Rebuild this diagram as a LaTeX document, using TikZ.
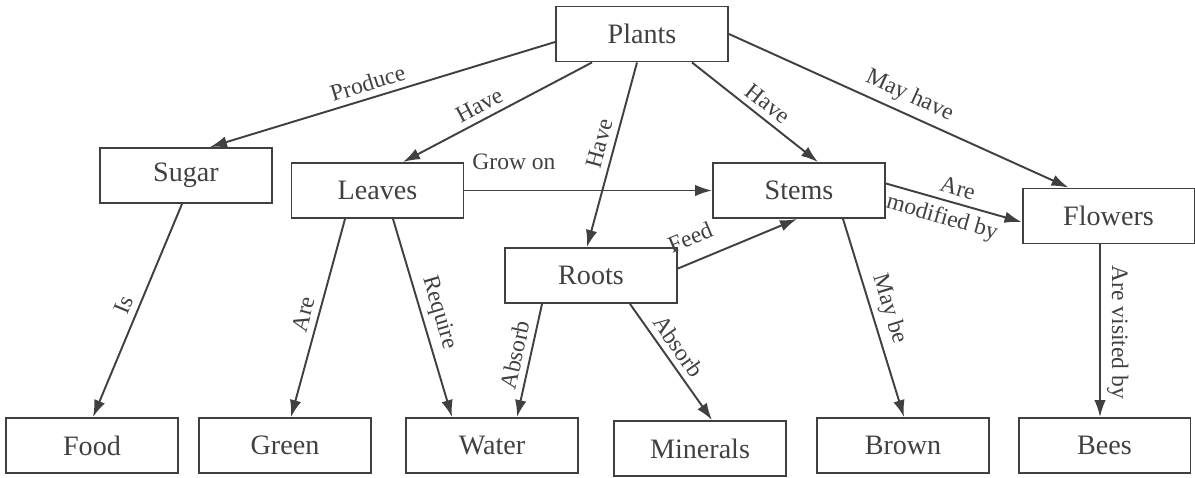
\documentclass[tikz,border=0pt]{standalone}
\usepackage{fontspec}
\setmainfont{Liberation Serif}
\usetikzlibrary{arrows.meta,calc}
\tikzset{>={Latex[length=3.4mm,width=2.3mm]}}
\tikzset{box/.style={draw=black!75, line width=1.1pt, minimum width=3.44cm, minimum height=1.1cm, inner sep=0pt, text=black!75, font=\fontsize{16}{18}\selectfont}}
\tikzset{link/.style={->, draw=black!75, line width=1.1pt}}
\tikzset{lbl/.style={sloped, above, inner sep=3.5pt, text=black!75, font=\fontsize{13.4}{15}\selectfont}}

\begin{document}
\begin{tikzpicture}[x=0.02cm, y=-0.02cm]
\useasboundingbox (0,0) rectangle (1195,477);
% boxes
\node[box] (plants) at (642,34) {Plants};
\node[box] (sugar) at (186,175.5) {Sugar};
\node[box] (leaves) at (377.5,190.5) {Leaves};
\node[box] (stems) at (799,190.5) {Stems};
\node[box] (roots) at (591,275.5) {Roots};
\node[box] (flowers) at (1108.5,216) {Flowers};
\node[box] (food) at (92,445.5) {Food};
\node[box] (green) at (285,445.5) {Green};
\node[box] (water) at (492,445.5) {Water};
\node[box] (minerals) at (700,448.5) {Minerals};
\node[box] (brown) at (903,445.5) {Brown};
\node[box] (bees) at (1104.5,445.5) {Bees};
% from plants
\draw[link] ($(plants.west)+(0,8)$) -- node[lbl, pos=.53] {Produce} ($(sugar.north)+(24,0)$);
\draw[link] ($(plants.south)+(-50,0)$) -- node[lbl, pos=.56] {Have} ($(leaves.north)+(25.5,0)$);
\draw[link] ($(plants.south)+(-5,0)$) -- node[lbl, pos=.46] {Have} ($(roots.north)+(-4,0)$);
\draw[link] ($(plants.south)+(50,0)$) -- node[lbl, pos=.53] {Have} ($(stems.north)+(19,0)$);
\draw[link] (plants.east) -- node[lbl, pos=.51] {May have} ($(flowers.north)+(-40,0)$);
% middle row
\draw[link] (leaves.east) -- node[lbl, above=8pt, pos=.2] {Grow on} (stems.west);
\draw[link] ($(roots.east)+(0,-7)$) -- node[lbl, above=5pt, pos=.18] {Feed} ($(stems.south)+(-2,0)$);
\draw[link] ($(stems.east)+(0,-7)$) -- node[lbl, pos=.5] {Are} node[lbl, below, pos=.45] {modified by} ($(flowers.west)+(0,6)$);
% to bottom row
\draw[link] ($(sugar.south)+(-4,0)$) -- node[lbl, pos=.5] {Is} ($(food.north)+(1,0)$);
\draw[link] ($(leaves.south)+(-32.5,0)$) -- node[lbl, pos=.5] {Are} ($(green.north)+(6,0)$);
\draw[link] ($(leaves.south)+(15.5,0)$) -- node[lbl, pos=.5] {Require} ($(water.north)+(-40,0)$);
\draw[link] ($(roots.south)+(-49,0)$) -- node[lbl, pos=.48] {Absorb} ($(water.north)+(25,0)$);
\draw[link] ($(roots.south)+(39,0)$) -- node[lbl, pos=.44] {Absorb} ($(minerals.north)+(12,0)$);
\draw[link] ($(stems.south)+(44,0)$) -- node[lbl, pos=.48] {May be} ($(brown.north)+(1,0)$);
\draw[link] ($(flowers.south)+(-8.5,0)$) -- node[lbl, pos=.51] {Are visited by} ($(bees.north)+(-4.5,0)$);
\end{tikzpicture}
\end{document}
